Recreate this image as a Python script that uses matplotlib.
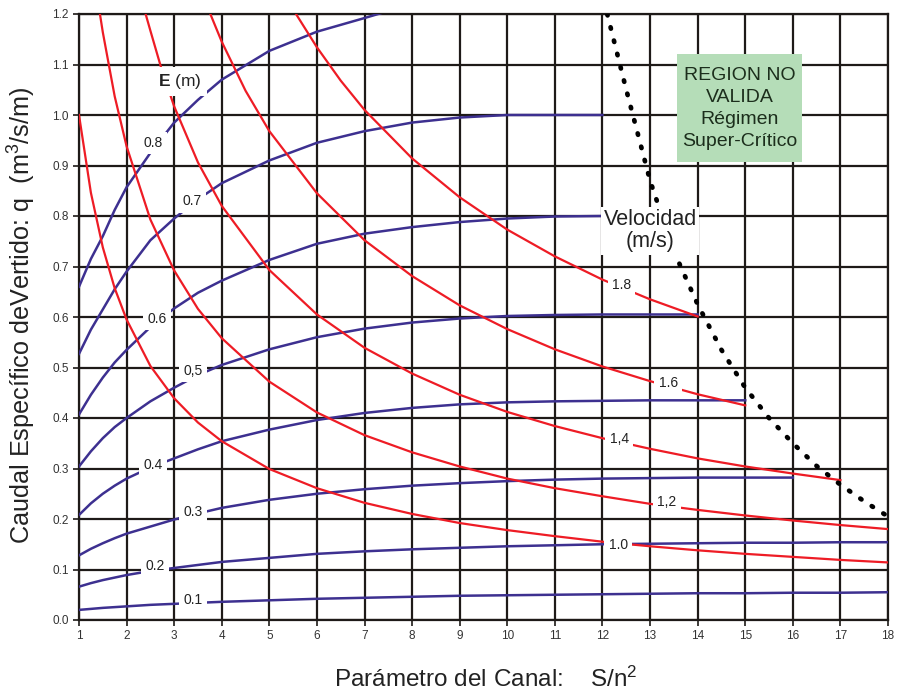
import matplotlib
matplotlib.use('Agg')
import matplotlib.pyplot as plt
from matplotlib.patches import Rectangle

plt.rcParams['font.family'] = ['Liberation Sans', 'DejaVu Sans']
plt.rcParams['mathtext.fontset'] = 'custom'
plt.rcParams['mathtext.rm'] = 'Liberation Sans'
plt.rcParams['mathtext.it'] = 'Liberation Sans:italic'
plt.rcParams['mathtext.bf'] = 'Liberation Sans:bold'

# curvas de energia especifica E (m), en azul
x_e = [1, 1.25, 1.5, 1.75, 2, 2.5, 3, 3.5, 4, 5, 6, 7, 8, 9, 10, 11, 12, 13, 14, 15, 16, 17, 18]
q_e01 = [0.020, 0.022, 0.024, 0.0255, 0.027, 0.030, 0.032, 0.034, 0.036, 0.039, 0.042, 0.044,
         0.046, 0.048, 0.049, 0.050, 0.051, 0.052, 0.053, 0.053, 0.054, 0.054, 0.055]
q_e02 = [0.066, 0.073, 0.079, 0.084, 0.089, 0.097, 0.103, 0.109, 0.115, 0.123, 0.131, 0.136,
         0.140, 0.143, 0.146, 0.148, 0.150, 0.151, 0.152, 0.153, 0.153, 0.154, 0.154]
q_e03 = [0.128, 0.141, 0.152, 0.162, 0.171, 0.185, 0.199, 0.211, 0.222, 0.238, 0.250, 0.259,
         0.266, 0.271, 0.275, 0.278, 0.280, 0.281, 0.282, 0.282, 0.282]
q_e04 = [0.208, 0.231, 0.250, 0.266, 0.280, 0.302, 0.320, 0.338, 0.354, 0.377, 0.396, 0.410,
         0.420, 0.427, 0.431, 0.433, 0.434, 0.435, 0.435, 0.435]
q_e05 = [0.304, 0.334, 0.360, 0.382, 0.400, 0.433, 0.460, 0.485, 0.505, 0.536, 0.560, 0.577,
         0.589, 0.597, 0.602, 0.604, 0.605, 0.605, 0.605]
q_e06 = [0.407, 0.446, 0.480, 0.510, 0.535, 0.580, 0.617, 0.648, 0.672, 0.713, 0.745, 0.765,
         0.778, 0.788, 0.795, 0.799, 0.800]
q_e07 = [0.527, 0.575, 0.615, 0.655, 0.690, 0.752, 0.795, 0.833, 0.865, 0.910, 0.945, 0.968,
         0.985, 0.995, 1.000, 1.000, 1.000]
q_e08 = [0.660, 0.715, 0.760, 0.812, 0.857, 0.925, 0.985, 1.030, 1.070, 1.127, 1.165, 1.192,
         1.220]
curvas_e = [q_e01, q_e02, q_e03, q_e04, q_e05, q_e06, q_e07, q_e08]
etiquetas_e = ['0.1', '0.2', '0.3', '0.4', '0,5', '0.6', '0.7', '0.8']

# curvas de velocidad V (m/s), en rojo
x_v10 = [1, 1.25, 1.5, 1.75, 2, 2.5, 3, 3.5, 4, 5, 6, 7, 8, 9, 10, 11, 12, 13, 14, 15, 16, 17, 18]
q_v10 = [1.0, 0.846, 0.738, 0.657, 0.595, 0.503, 0.439, 0.391, 0.354, 0.299, 0.261, 0.232,
         0.210, 0.192, 0.178, 0.166, 0.155, 0.146, 0.138, 0.131, 0.125, 0.119, 0.114]
x_v12 = [1.44, 1.5, 1.75, 2, 2.5, 3, 3.5, 4, 5, 6, 7, 8, 9, 10, 11, 12, 13, 14, 15, 16, 17, 18]
q_v12 = [1.2, 1.164, 1.037, 0.938, 0.793, 0.692, 0.616, 0.558, 0.472, 0.411, 0.366, 0.332,
         0.304, 0.280, 0.261, 0.245, 0.230, 0.218, 0.207, 0.197, 0.188, 0.180]
x_v14 = [2.4, 2.5, 2.75, 3, 3.5, 4, 5, 6, 7, 8, 9, 10, 11, 12, 13, 14, 15, 16, 17]
q_v14 = [1.2, 1.167, 1.086, 1.017, 0.906, 0.820, 0.693, 0.605, 0.539, 0.488, 0.446, 0.412,
         0.384, 0.360, 0.339, 0.320, 0.304, 0.290, 0.277]
x_v16 = [3.76, 4, 4.5, 5, 6, 7, 8, 9, 10, 11, 12, 13, 14, 15]
q_v16 = [1.2, 1.145, 1.048, 0.968, 0.845, 0.752, 0.681, 0.623, 0.576, 0.536, 0.502, 0.473,
         0.447, 0.425]
x_v18 = [5.56, 6, 6.5, 7, 8, 9, 10, 11, 12, 13, 14]
q_v18 = [1.2, 1.134, 1.068, 1.010, 0.914, 0.837, 0.773, 0.720, 0.674, 0.635, 0.601]
curvas_v = [(x_v10, q_v10), (x_v12, q_v12), (x_v14, q_v14), (x_v16, q_v16), (x_v18, q_v18)]
etiquetas_v = ['1.0', '1,2', '1,4', '1.6', '1.8']

# limite del regimen critico (linea de puntos)
x_crit = [12.1, 12.5, 13, 13.5, 14, 14.5, 15, 15.5, 16, 16.5, 17, 17.5, 18]
q_crit = [1.2, 1.05, 0.87, 0.73, 0.625, 0.535, 0.46, 0.40, 0.35, 0.305, 0.268, 0.235, 0.205]

x_ticks = list(range(1, 19))
y_ticks = [0.0, 0.1, 0.2, 0.3, 0.4, 0.5, 0.6, 0.7, 0.8, 0.9, 1.0, 1.1, 1.2]

AZUL = '#3d3090'
ROJO = '#ee1c25'
NEGRO = '#1e1a18'

fig = plt.figure(figsize=(9.02, 6.93), dpi=100)
ax = fig.add_axes([79 / 902, 1 - 620 / 693, 809 / 902, 606 / 693])

for q in curvas_e:
    ax.plot(x_e[:len(q)], q, color=AZUL, lw=1.8, zorder=3)
for xv, qv in curvas_v:
    ax.plot(xv, qv, color=ROJO, lw=1.6, zorder=3)
ax.plot(x_crit, q_crit, color='black', lw=3.4, linestyle=(0, (0.3, 2.6)),
        dash_capstyle='round', zorder=4)

ax.set_xlim(1, 18)
ax.set_ylim(0, 1.2)
ax.set_xticks(x_ticks)
ax.set_yticks(y_ticks)
ax.set_yticklabels(['%.1f' % v for v in y_ticks])
ax.grid(True, color=NEGRO, lw=1.6)
ax.set_axisbelow(True)
for s in ax.spines.values():
    s.set_color(NEGRO)
    s.set_linewidth(1.6)
ax.tick_params(direction='out', length=4.5, width=1.2, color=NEGRO,
               labelsize=8.5, labelcolor='#333333', pad=3)

# etiquetas sobre las curvas
caja = dict(boxstyle='square,pad=0.3', facecolor='white', edgecolor='none')
pos_e = [(3.40, 0.040), (2.60, 0.107), (3.40, 0.213), (2.56, 0.306),
         (3.40, 0.494), (2.64, 0.597), (3.37, 0.829), (2.56, 0.944)]
for t, (x, y) in zip(etiquetas_e, pos_e):
    ax.text(x, y, t, fontsize=10, color='#222222', ha='center', va='center',
            bbox=caja, zorder=6)
pos_v = [(12.33, 0.149), (13.35, 0.234), (12.35, 0.358), (13.38, 0.469), (12.40, 0.663)]
for t, (x, y) in zip(etiquetas_v, pos_v):
    ax.text(x, y, t, fontsize=10, color='#222222', ha='center', va='center',
            bbox=caja, zorder=6)

ax.text(3.12, 1.066, r'$\mathbf{E}$ (m)', fontsize=12.5, color='#222222',
        ha='center', va='center', bbox=caja, zorder=6)
ax.text(13.0, 0.771, 'Velocidad\n(m/s)', fontsize=15.5, color='#222222', ha='center',
        va='center', linespacing=1.05,
        bbox=dict(boxstyle='square,pad=0.12', facecolor='white', edgecolor='none'), zorder=6)

ax.add_patch(Rectangle((13.57, 0.906), 2.63, 0.214, facecolor='#b5ddb8',
                       edgecolor='none', zorder=5))
ax.text(14.88, 1.013, 'REGION NO\nVALIDA\nRégimen\nSuper-Crítico', fontsize=14,
        color='#1c2e1c', ha='center', va='center', linespacing=1.38, zorder=6)

fig.text(486 / 902, 1 - 687 / 693, 'Parámetro del Canal:    S/n$^2$', fontsize=17.5,
         color='#222222', ha='center', va='baseline')
fig.text(22 / 902, 1 - 315 / 693, 'Caudal Específico deVertido: q  (m$^3$/s/m)',
         fontsize=18.2, color='#222222', ha='center', va='center', rotation=90)

fig.savefig('out.png', dpi=100)
